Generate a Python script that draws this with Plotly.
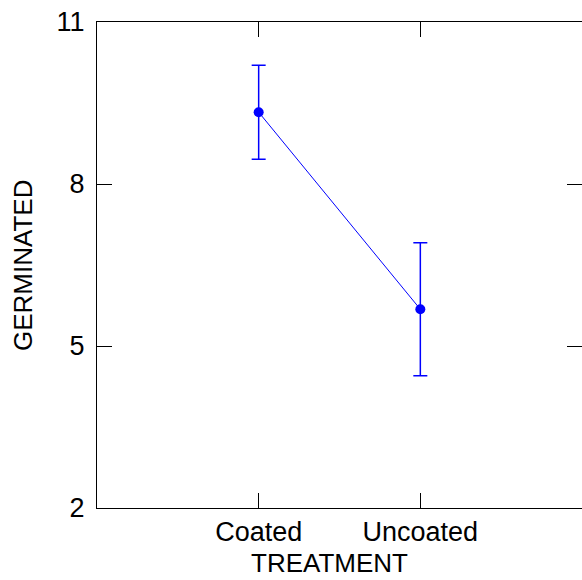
import plotly.graph_objects as go

categories = ["Coated", "Uncoated"]
means = [9.33, 5.68]
errors = [0.87, 1.23]
y_ticks = [2, 5, 8, 11]
x_title = "TREATMENT"
y_title = "GERMINATED"

blue = "#0000FF"
font_family = "Liberation Sans, Arial, sans-serif"
tick_size = 27
title_size = 26

x_pos = [1, 2]

fig = go.Figure()
fig.add_trace(go.Scatter(
    x=x_pos, y=means, mode="lines+markers",
    line=dict(color=blue, width=1),
    marker=dict(color=blue, size=10),
    error_y=dict(type="data", array=errors, visible=True, color=blue, thickness=1.5, width=7),
    showlegend=False,
))
# invisible trace to carry the right-hand tick axis
fig.add_trace(go.Scatter(x=x_pos, y=means, yaxis="y2", mode="markers",
                         marker=dict(opacity=0), showlegend=False, hoverinfo="skip"))

fig.update_layout(
    width=582, height=580,
    margin=dict(l=97, r=0, t=22, b=72),
    paper_bgcolor="white", plot_bgcolor="white",
    font=dict(family=font_family, size=tick_size, color="black"),
    xaxis=dict(range=[0, 3], tickvals=x_pos, ticktext=categories,
               showline=True, linecolor="black", linewidth=1, mirror="ticks",
               ticks="inside", ticklen=15, tickcolor="black", tickwidth=1,
               showgrid=False, zeroline=False, tickfont=dict(size=tick_size)),
    yaxis=dict(range=[2, 11], tickvals=y_ticks,
               showline=True, linecolor="black", linewidth=1, mirror=False,
               ticks="inside", ticklen=15, tickcolor="black", tickwidth=1,
               showgrid=False, zeroline=False, tickfont=dict(size=tick_size),
               ticklabelstandoff=6),
    yaxis2=dict(range=[2, 11], tickvals=y_ticks, overlaying="y", side="right",
                showline=False, ticks="inside", ticklen=15, tickcolor="black",
                tickwidth=1, showticklabels=False, showgrid=False, zeroline=False),
    annotations=[
        dict(text=x_title, xref="paper", yref="paper", x=0.48, y=-72 / 486,
             xanchor="center", yanchor="bottom", showarrow=False,
             font=dict(size=title_size)),
        dict(text=y_title, xref="paper", yref="paper", x=-0.1526, y=0.5,
             xanchor="center", yanchor="middle", showarrow=False, textangle=-90,
             font=dict(size=title_size)),
    ],
)

fig.write_html("out.html", config={"displayModeBar": False},
               post_script="document.body.style.margin='0';document.body.style.overflow='hidden';")
